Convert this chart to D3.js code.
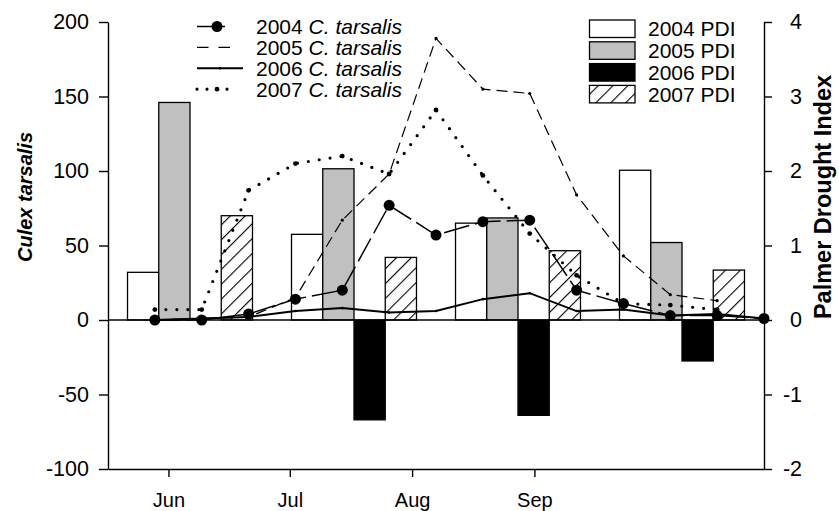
<!DOCTYPE html>
<html><head><meta charset="utf-8">
<script src="https://cdn.jsdelivr.net/npm/d3@7"></script>
<style>body{margin:0;background:#fff} text{font-family:"Liberation Sans",Arial,Helvetica,sans-serif;fill:#000}</style>
</head><body><svg id="c" width="839" height="511"></svg>
<script>
// ---------- data ----------
const periods = [1,2,3,4,5,6,7,8,9,10,11,12,13,14];
const tars2004 = [0, 0, 4, 14, 20, 77, 57, 66, 67, 20, 11, 3, 3, 1];
const tars2005 = [0, 1, 2, 15, 67, 98, 189, 155, 152, 84, 43, 17, 13];
const tars2006 = [0, 1, 2, 6, 8, 5, 6, 14, 18, 6, 7, 3, 4, 1];
const tars2007 = [7, 7, 87, 105, 110, 98, 141, 97, 58, 30, 11, 10, 7];

const monthLabels = ["Jun","Jul","Aug","Sep"];
const monthTickPos = [1.29, 3.88, 6.49, 9.10];

const pdiGroups = ["G1","G2","G3","G4"];
const pdiYears = ["2004","2005","2006","2007"];
const pdi2004 = [0.64, 1.15, 1.30, 2.01];
const pdi2005 = [2.92, 2.03, 1.37, 1.04];
const pdi2006 = [0.00, -1.34, -1.28, -0.55];
const pdi2007 = [1.40, 0.84, 0.93, 0.67];

const leftTicks = [-100,-50,0,50,100,150,200];
const rightTicks = [-2,-1,0,1,2,3,4];

// ---------- layout ----------
const L = 108, R = 764, T = 22, B = 469;
const svg = d3.select("#c");
const FS = 21;

const x = d3.scaleLinear().domain([0,14]).range([L,R]);
const yL = d3.scaleLinear().domain([-100,200]).range([B,T]);
const yR = d3.scaleLinear().domain([-2,4]).range([B,T]);
const xg = d3.scaleBand().domain(pdiGroups).range([L,R]).paddingInner(0.238).paddingOuter(0.119);
const xs = d3.scaleBand().domain(pdiYears).range([0, xg.bandwidth()]);

const defs = svg.append("defs");
const pat = defs.append("pattern").attr("id","hatch").attr("patternUnits","userSpaceOnUse")
  .attr("width",10.5).attr("height",10.5).attr("patternTransform","rotate(45)");
pat.append("rect").attr("width",10.5).attr("height",10.5).attr("fill","#fff");
pat.append("line").attr("x1",0).attr("y1",0).attr("x2",0).attr("y2",10.5).attr("stroke","#000").attr("stroke-width",2.2);

const fills = {"2004":"#fff","2005":"#c0c0c0","2006":"#000","2007":"url(#hatch)"};
const pdiByYear = {"2004":pdi2004,"2005":pdi2005,"2006":pdi2006,"2007":pdi2007};

// bars
const rows = [];
pdiGroups.forEach((g,i)=>pdiYears.forEach(yv=>rows.push({g, yr:yv, v:pdiByYear[yv][i]})));
svg.append("g").selectAll("rect").data(rows.filter(d=>d.v!==0)).join("rect")
  .attr("x", d=>xg(d.g)+xs(d.yr))
  .attr("width", xs.bandwidth())
  .attr("y", d=>yR(Math.max(0,d.v)))
  .attr("height", d=>Math.abs(yR(d.v)-yR(0)))
  .attr("fill", d=>fills[d.yr]).attr("stroke","#000").attr("stroke-width",1.3);

// zero line
svg.append("line").attr("x1",L).attr("x2",R).attr("y1",yL(0)).attr("y2",yL(0)).attr("stroke","#000").attr("stroke-width",1.3);

// lines
const series = [
  {vals:tars2004, dash:"26,6", w:1.5, r:5.5, leg:[197,225,217]},
  {vals:tars2005, dash:"11,6", legDash:"11.5,10", w:1.2, r:1.6, leg:[197,230,null]},
  {vals:tars2006, dash:null, w:2, r:1.3, leg:[197,243,220]},
  {vals:tars2007, dash:"0,11", legDash:"0,10", w:3.2, r:2.4, cap:"round", leg:[197,228,217]}
];
const line = d3.line().x(d=>x(d[0])).y(d=>yL(d[1]));
series.forEach(s=>{
  const pts = s.vals.map((v,i)=>[periods[i],v]);
  svg.append("path").datum(pts).attr("d",line).attr("fill","none").attr("stroke","#000")
    .attr("stroke-width",s.w).attr("stroke-dasharray",s.dash).attr("stroke-linecap",s.cap||"butt");
  svg.append("g").selectAll("circle").data(pts).join("circle")
    .attr("cx",d=>x(d[0])).attr("cy",d=>yL(d[1])).attr("r",s.r).attr("fill","#000");
});

// axes
const styleAxis = (fs)=>g=>{
  g.selectAll("path.domain").attr("stroke","#000").attr("stroke-width",1.4);
  g.selectAll(".tick line").attr("stroke","#000").attr("stroke-width",1.4);
  g.selectAll("text").attr("font-size",fs).attr("font-family","Liberation Sans, Arial, sans-serif").attr("fill","#000");
};
const fmt = d=>String(d);
svg.append("g").attr("transform",`translate(${L},0)`)
  .call(d3.axisLeft(yL).tickValues(leftTicks).tickFormat(fmt).tickSize(9).tickPadding(10).tickSizeOuter(0))
  .call(styleAxis(21.5));
const ra = svg.append("g").attr("transform",`translate(${R},0)`)
  .call(d3.axisRight(yR).tickValues(rightTicks).tickFormat(fmt).tickSize(8).tickPadding(10).tickSizeOuter(0))
  .call(styleAxis(21.5));
ra.selectAll("text").attr("text-anchor","end").attr("x",38);
svg.append("g").attr("transform",`translate(0,${B})`)
  .call(d3.axisBottom(x).tickValues(monthTickPos).tickFormat((d,i)=>monthLabels[i]).tickSize(8).tickPadding(16).tickSizeOuter(0))
  .call(styleAxis(20));

// axis titles
svg.append("text").attr("transform","translate(32,197) rotate(-90)").attr("text-anchor","middle")
  .attr("font-size",20).attr("font-weight","bold").attr("font-style","italic").text("Culex tarsalis");
svg.append("text").attr("transform","translate(831,197) rotate(-90)").attr("text-anchor","middle")
  .attr("font-size",23.5).attr("font-weight","bold").text("Palmer Drought Index");

// line legend
const legYears = ["2004","2005","2006","2007"];
const ly0 = 26.5, lpitch = 20.9;
series.forEach((s,i)=>{
  const yy = ly0 + i*lpitch;
  svg.append("line").attr("x1",s.leg[0]).attr("x2",s.leg[1]).attr("y1",yy).attr("y2",yy).attr("stroke","#000")
    .attr("stroke-width",s.w).attr("stroke-dasharray",s.legDash||null).attr("stroke-linecap",s.cap||"butt");
  if (s.leg[2]!==null) svg.append("circle").attr("cx",s.leg[2]).attr("cy",yy).attr("r",s.r).attr("fill","#000");
  const t = svg.append("text").attr("x",256).attr("y",yy).attr("dy","0.35em").attr("font-size",FS);
  t.append("tspan").text(legYears[i]+" ");
  t.append("tspan").attr("font-style","italic").text("C. tarsalis");
});

// bar legend
const by0 = 20, bpitch = 21.8;
pdiYears.forEach((yr,i)=>{
  const yy = by0 + i*bpitch;
  svg.append("rect").attr("x",589.5).attr("y",yy).attr("width",45.5).attr("height",17.5)
    .attr("fill",fills[yr]).attr("stroke","#000").attr("stroke-width",1.3);
  svg.append("text").attr("x",648).attr("y",yy+8.75).attr("dy","0.35em").attr("font-size",FS).text(yr+" PDI");
});
</script></body></html>
